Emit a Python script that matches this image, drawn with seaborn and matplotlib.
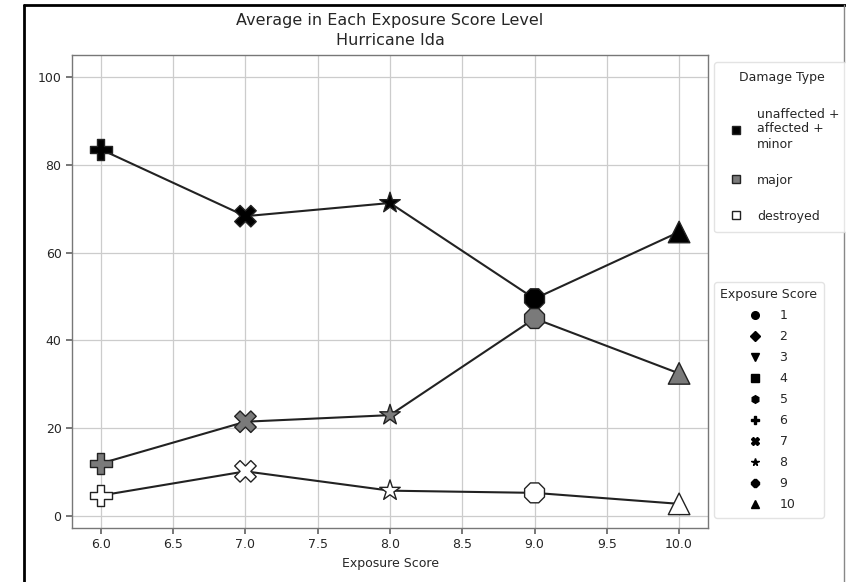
import pandas as pd
import matplotlib.pyplot as plt
import seaborn as sns
from matplotlib.lines import Line2D

sns.set_theme(style="whitegrid")
plt.rcParams['font.family'] = ['DejaVu Sans']

# valeurs
exposure_scores = [6, 7, 8, 9, 10]
unaffected_minor = [83.5, 68.3, 71.3, 49.5, 64.7]
major = [12.0, 21.5, 23.0, 45.0, 32.5]
destroyed = [4.7, 10.2, 5.8, 5.3, 2.8]

damage_labels = ['unaffected +\naffected +\nminor', 'major', 'destroyed']
damage_colors = ['#000000', '#7a7a7a', '#ffffff']
legend_scores = [1, 2, 3, 4, 5, 6, 7, 8, 9, 10]
score_markers = ['o', 'D', 'v', 's', 'h', 'P', 'X', '*', '8', '^']

rows = []
for lab, vals in zip(damage_labels, [unaffected_minor, major, destroyed]):
    for x, v in zip(exposure_scores, vals):
        rows.append({'exposure': x, 'value': v, 'damage': lab})
df = pd.DataFrame(rows)

fig = plt.figure(figsize=(8.46, 5.82), dpi=100)
ax = fig.add_axes([72 / 846, 1 - 528 / 582, (708 - 72) / 846, (528 - 55) / 582])

sns.lineplot(data=df, x='exposure', y='value', units='damage', estimator=None,
             color='#222222', linewidth=1.5, ax=ax, legend=False, zorder=2)
marker_map = dict(zip(legend_scores, score_markers))
sns.scatterplot(data=df, x='exposure', y='value', hue='damage', style='exposure',
                palette=dict(zip(damage_labels, damage_colors)),
                markers={k: marker_map[k] for k in exposure_scores},
                s=240, edgecolor='#222222', linewidth=1.0, ax=ax, legend=False, zorder=3)

ax.set_xlim(5.8, 10.2)
ax.set_ylim(-2.7, 105)
ax.set_xticks([6.0, 6.5, 7.0, 7.5, 8.0, 8.5, 9.0, 9.5, 10.0])
ax.set_yticks([0, 20, 40, 60, 80, 100])
ax.tick_params(axis='both', labelsize=9, length=4, color='#666666', bottom=True, left=True)
ax.grid(True, color='#cccccc', linewidth=0.9)
for sp in ax.spines.values():
    sp.set_color('#777777')
    sp.set_linewidth(1.0)
ax.set_xlabel('Exposure Score', fontsize=9)
ax.set_ylabel('')
ax.set_title('Average in Each Exposure Score Level\nHurricane Ida', fontsize=11.5, pad=7,
             linespacing=1.45)

dmg_handles = [Line2D([], [], marker='s', linestyle='', markersize=6,
                      markerfacecolor=c, markeredgecolor='#222222') for c in damage_colors]
leg1 = fig.legend(dmg_handles, damage_labels, title='Damage Type', loc='upper left',
                  bbox_to_anchor=(714 / 846, 1 - 62 / 582), borderaxespad=0,
                  fontsize=9, title_fontsize=9, labelspacing=1.85, handletextpad=0.7,
                  borderpad=0.75, frameon=True)
leg1.get_frame().set_edgecolor('#dddddd')

exp_handles = [Line2D([], [], marker=m, linestyle='', markersize=5.5, color='black')
               for m in score_markers]
leg2 = fig.legend(exp_handles, [str(s) for s in legend_scores], title='Exposure Score',
                  loc='upper left', bbox_to_anchor=(714 / 846, 1 - 282 / 582), borderaxespad=0,
                  fontsize=9, title_fontsize=9, labelspacing=0.64, borderpad=0.5,
                  handletextpad=1.0, frameon=True)
leg2.get_frame().set_edgecolor('#dddddd')

# cadre de la capture
fig.add_artist(Line2D([24 / 846, 24 / 846], [0, 1 - 5 / 582], color='black', linewidth=2,
                      transform=fig.transFigure))
fig.add_artist(Line2D([24 / 846, 1], [1 - 5 / 582, 1 - 5 / 582], color='black', linewidth=2,
                      transform=fig.transFigure))
fig.add_artist(Line2D([844 / 846, 844 / 846], [0, 1 - 5 / 582], color='#888888', linewidth=1,
                      transform=fig.transFigure))

fig.savefig('out.png', dpi=100)
